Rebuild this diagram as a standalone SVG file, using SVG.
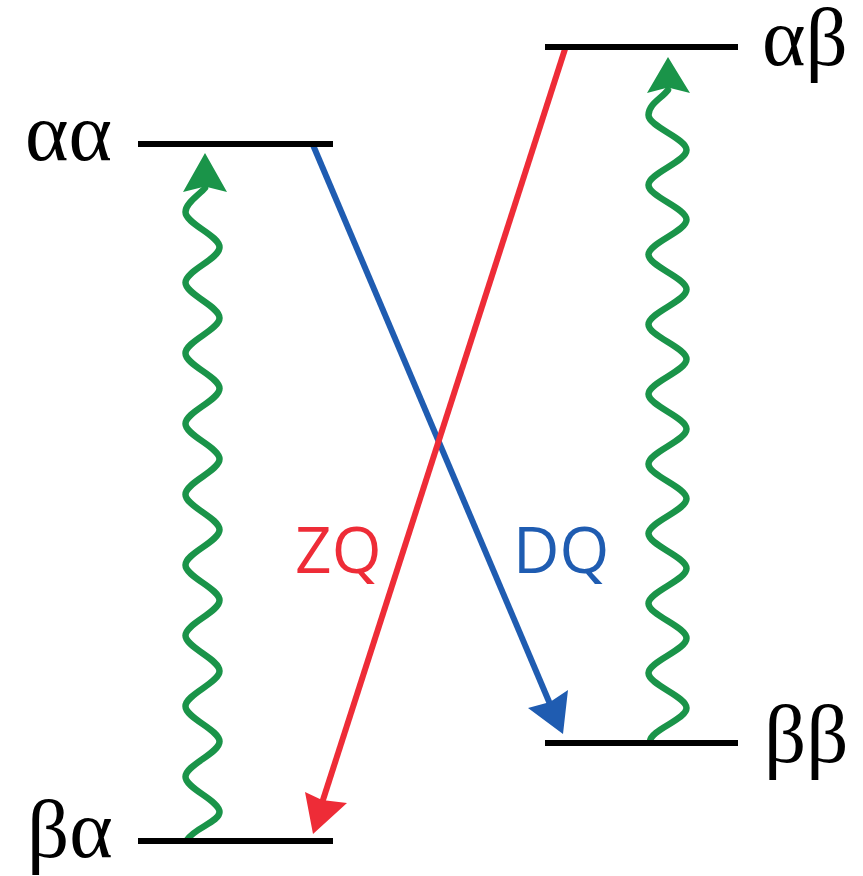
<svg xmlns="http://www.w3.org/2000/svg" width="863" height="876" viewBox="0 0 863 876">
<style>
.lvl{stroke:#000;stroke-width:6;fill:none}
.wave{stroke:#1a9449;stroke-width:6.5;fill:none;stroke-linecap:round}
.ghead{fill:#1a9449}
.lab{font-family:"Liberation Serif","DejaVu Serif",serif;font-size:83px;fill:#000}
.tr{font-family:"Open Sans","Noto Sans","DejaVu Sans",sans-serif;font-size:64px}
</style>
<rect width="863" height="876" fill="#fff"/>
<g id="connectors">
<path class="wave" d="M 205 188 C 199 195 185.5 203 185.5 212 C 185.5 223.8 219.5 235.5 219.5 247.3 S 185.5 270.8 185.5 282.6 S 219.5 306.1 219.5 317.9 S 185.5 341.4 185.5 353.2 S 219.5 376.7 219.5 388.5 S 185.5 412 185.5 423.8 S 219.5 447.3 219.5 459.1 S 185.5 482.6 185.5 494.4 S 219.5 517.9 219.5 529.7 S 185.5 553.2 185.5 565 S 219.5 588.5 219.5 600.3 S 185.5 623.8 185.5 635.6 S 219.5 659.1 219.5 670.9 S 185.5 694.4 185.5 706.2 S 219.5 729.7 219.5 741.5 S 185.5 765 185.5 776.8 S 219.5 800.3 219.5 812.1 C 219.5 822 194 828 187 840"/>
<polygon class="ghead" points="205,153 227,192 205,186.5 183,192"/>
<path class="wave" d="M 668 90 C 662 98 648.5 104 648.5 115.1 C 648.5 126.7 686.5 138.4 686.5 150 S 648.5 173.3 648.5 184.9 S 686.5 208.1 686.5 219.75 S 648.5 243 648.5 254.6 S 686.5 277.9 686.5 289.5 S 648.5 312.8 648.5 324.4 S 686.5 347.6 686.5 359.25 S 648.5 382.5 648.5 394.1 S 686.5 417.4 686.5 429 S 648.5 452.3 648.5 463.9 S 686.5 487.1 686.5 498.75 S 648.5 522 648.5 533.6 S 686.5 556.9 686.5 568.5 S 648.5 591.8 648.5 603.4 S 686.5 626.6 686.5 638.25 S 648.5 661.5 648.5 673.1 S 686.5 696.4 686.5 708 C 686.5 719.6 651 729.4 650 741"/>
<polygon class="ghead" points="668,57 690,93 668,87.5 647,93"/>
<line x1="313" y1="145" x2="550" y2="704" stroke="#1f5cb1" stroke-width="6"/>
<polygon fill="#1f5cb1" points="563,734 528,708 550,702 568,690"/>
<line x1="566" y1="46" x2="322" y2="803" stroke="#ee2c37" stroke-width="6"/>
<polygon fill="#ee2c37" points="313,834 305,792 322,800 347,803"/>
</g>
<g id="aa"><line class="lvl" x1="138" y1="144" x2="333" y2="144"/><text class="lab" x="25" y="160">αα</text></g>
<g id="ba"><line class="lvl" x1="138" y1="841" x2="333" y2="841"/><text class="lab" x="27" y="857">βα</text></g>
<g id="ab"><line class="lvl" x1="545" y1="47" x2="738" y2="47"/><text class="lab" x="762" y="65">αβ</text></g>
<g id="bb"><line class="lvl" x1="545" y1="743" x2="738" y2="743"/><text class="lab" x="764" y="762">ββ</text></g>
<g id="zq"><text class="tr" x="295" y="573" fill="#ee2c37">ZQ</text></g>
<g id="dq"><text class="tr" x="513" y="573" fill="#1f5cb1">DQ</text></g>
</svg>
